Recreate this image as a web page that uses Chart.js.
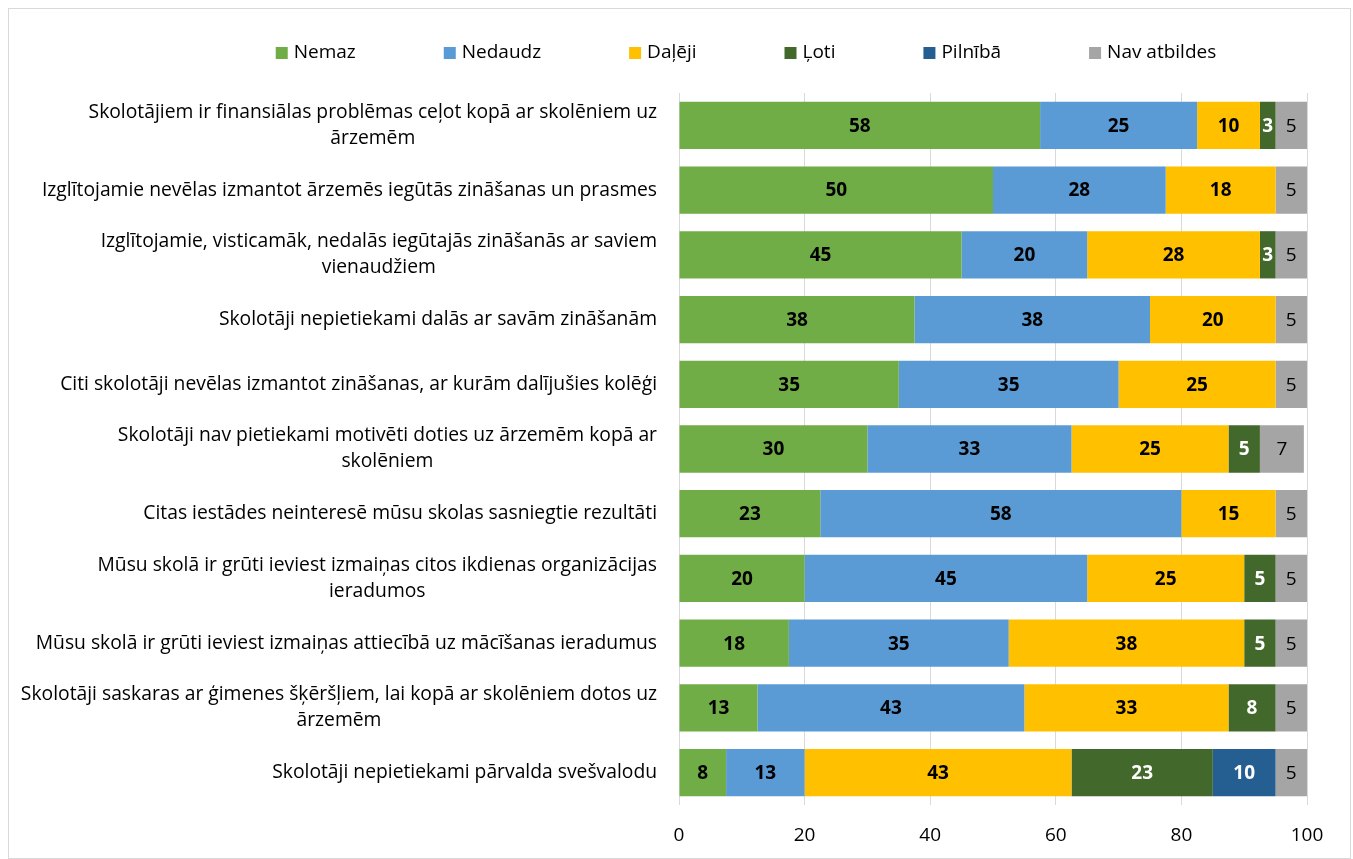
<!DOCTYPE html>
<html lang="lv">
<head>
<meta charset="utf-8">
<title>Šķēršļi</title>
<script src="https://cdn.jsdelivr.net/npm/chart.js@4.4.1/dist/chart.umd.min.js"></script>
<style>
  html, body { margin: 0; padding: 0; background: #fff; }
  canvas { display: block; }
</style>
</head>
<body>
<canvas id="barriersChart" width="1353" height="859"></canvas>
<script>
// --- Data ---
const categories = [
  ['Skolotājiem ir finansiālas problēmas ceļot kopā ar skolēniem uz', 'ārzemēm'],
  ['Izglītojamie nevēlas izmantot ārzemēs iegūtās zināšanas un prasmes'],
  ['Izglītojamie, visticamāk, nedalās iegūtajās zināšanās ar saviem', 'vienaudžiem'],
  ['Skolotāji nepietiekami dalās ar savām zināšanām'],
  ['Citi skolotāji nevēlas izmantot zināšanas, ar kurām dalījušies kolēģi'],
  ['Skolotāji nav pietiekami motivēti doties uz ārzemēm kopā ar', 'skolēniem'],
  ['Citas iestādes neinteresē mūsu skolas sasniegtie rezultāti'],
  ['Mūsu skolā ir grūti ieviest izmaiņas citos ikdienas organizācijas', 'ieradumos'],
  ['Mūsu skolā ir grūti ieviest izmaiņas attiecībā uz mācīšanas ieradumus'],
  ['Skolotāji saskaras ar ģimenes šķēršļiem, lai kopā ar skolēniem dotos uz', 'ārzemēm'],
  ['Skolotāji nepietiekami pārvalda svešvalodu']
]

const seriesNames = ['Nemaz', 'Nedaudz', 'Daļēji', 'Ļoti', 'Pilnībā', 'Nav atbildes']

const nemaz = [57.5, 50, 45, 37.5, 35, 30, 22.5, 20, 17.5, 12.5, 7.5]
const nedaudz = [25, 27.5, 20, 37.5, 35, 32.5, 57.5, 45, 35, 42.5, 12.5]
const daleji = [10, 17.5, 27.5, 20, 25, 25, 15, 25, 37.5, 32.5, 42.5]
const loti = [2.5, 0, 2.5, 0, 0, 5, 0, 5, 5, 7.5, 22.5]
const pilniba = [0, 0, 0, 0, 0, 0, 0, 0, 0, 0, 10]
const navAtbildes = [5, 5, 5, 5, 5, 7, 5, 5, 5, 5, 5]

const xTicks = [0, 20, 40, 60, 80, 100]

// --- Styles ---
const FONT = '"Open Sans", "DejaVu Sans", sans-serif'
const colors = ['#70AD47', '#5B9BD5', '#FFC000', '#43682B', '#255E91', '#A5A5A5']
const labelColors = ['#000', '#000', '#000', '#fff', '#fff', '#000']
const labelWeights = ['bold', 'bold', 'bold', 'bold', 'bold', 'normal']

// --- Plugins ---
// outer frame like the Excel chart area border
const framePlugin = {
  id: 'frame',
  beforeDraw(chart) {
    const ctx = chart.ctx
    ctx.save()
    ctx.strokeStyle = '#D9D9D9'
    ctx.lineWidth = 1
    ctx.strokeRect(8.5, 8.5, chart.width - 11, chart.height - 9)
    ctx.restore()
  }
}

// legend in a single row with wide gaps
const legendRow = {
  id: 'legendRow',
  afterDraw(chart, args, opts) {
    const ctx = chart.ctx
    ctx.save()
    ctx.font = `${opts.size}px ${FONT}`
    ctx.textBaseline = 'middle'
    const items = chart.data.datasets.map((ds) => ({
      text: ds.label,
      color: ds.backgroundColor,
      w: opts.box + opts.gap + ctx.measureText(ds.label).width
    }))
    const total = items.reduce((s, it) => s + it.w, 0) + opts.spacing * (items.length - 1)
    let x = opts.centerX - total / 2
    items.forEach((it) => {
      ctx.fillStyle = it.color
      ctx.fillRect(x, opts.y - opts.box / 2, opts.box, opts.box)
      ctx.fillStyle = '#000'
      ctx.fillText(it.text, x + opts.box + opts.gap, opts.y)
      x += it.w + opts.spacing
    })
    ctx.restore()
  }
}

// category labels: lines centred on each other, block right-aligned to the axis
const categoryLabels = {
  id: 'categoryLabels',
  afterDraw(chart, args, opts) {
    const ctx = chart.ctx
    const yScale = chart.scales.y
    const right = chart.chartArea.left - opts.padding
    ctx.save()
    ctx.font = `${opts.size}px ${FONT}`
    ctx.fillStyle = '#000'
    ctx.textAlign = 'center'
    ctx.textBaseline = 'middle'
    chart.data.labels.forEach((lines, i) => {
      const maxW = Math.max(...lines.map((l) => ctx.measureText(l).width))
      const cx = right - maxW / 2
      const cy = yScale.getPixelForTick(i)
      const top = cy - ((lines.length - 1) * opts.lineHeight) / 2
      lines.forEach((l, j) => ctx.fillText(l, cx, top + j * opts.lineHeight))
    })
    ctx.restore()
  }
}

// value labels in the middle of every segment
const valueLabels = {
  id: 'valueLabels',
  afterDatasetsDraw(chart, args, opts) {
    const ctx = chart.ctx
    ctx.save()
    ctx.textAlign = 'center'
    ctx.textBaseline = 'middle'
    chart.data.datasets.forEach((ds, d) => {
      const meta = chart.getDatasetMeta(d)
      ctx.font = `${labelWeights[d]} ${opts.size}px ${FONT}`
      ctx.fillStyle = labelColors[d]
      meta.data.forEach((bar, i) => {
        const v = ds.data[i]
        if (!v) return
        ctx.fillText(String(Math.round(v)), (bar.x + bar.base) / 2, bar.y + 1)
      })
    })
    ctx.restore()
  }
}

// --- Chart ---
const seriesData = [nemaz, nedaudz, daleji, loti, pilniba, navAtbildes]

new Chart(document.getElementById('barriersChart'), {
  type: 'bar',
  data: {
    labels: categories,
    datasets: seriesNames.map((name, i) => ({
      label: name,
      data: seriesData[i],
      backgroundColor: colors[i],
      borderWidth: 0,
      barPercentage: 0.73,
      categoryPercentage: 1
    }))
  },
  options: {
    indexAxis: 'y',
    responsive: false,
    animation: false,
    events: [],
    layout: {
      padding: { top: 93, right: 46, bottom: 0, left: 0 }
    },
    scales: {
      x: {
        stacked: true,
        min: 0,
        max: 100,
        afterBuildTicks: (scale) => {
          scale.ticks = xTicks.map((v) => ({ value: v }))
        },
        afterFit: (scale) => {
          scale.height = 54
        },
        grid: { color: '#D9D9D9', lineWidth: 1, drawTicks: false },
        border: { display: false },
        ticks: {
          padding: 19,
          color: '#000',
          font: { family: FONT, size: 19 }
        }
      },
      y: {
        stacked: true,
        afterFit: (scale) => {
          scale.width = 679
        },
        grid: { display: false },
        border: { display: false },
        ticks: { display: false }
      }
    },
    plugins: {
      legend: { display: false },
      tooltip: { enabled: false },
      legendRow: { size: 19, box: 12, gap: 6, spacing: 88, centerX: 746, y: 53 },
      categoryLabels: { size: 19.3, lineHeight: 26, padding: 22 },
      valueLabels: { size: 19 }
    }
  },
  plugins: [framePlugin, legendRow, categoryLabels, valueLabels]
})
</script>
</body>
</html>
